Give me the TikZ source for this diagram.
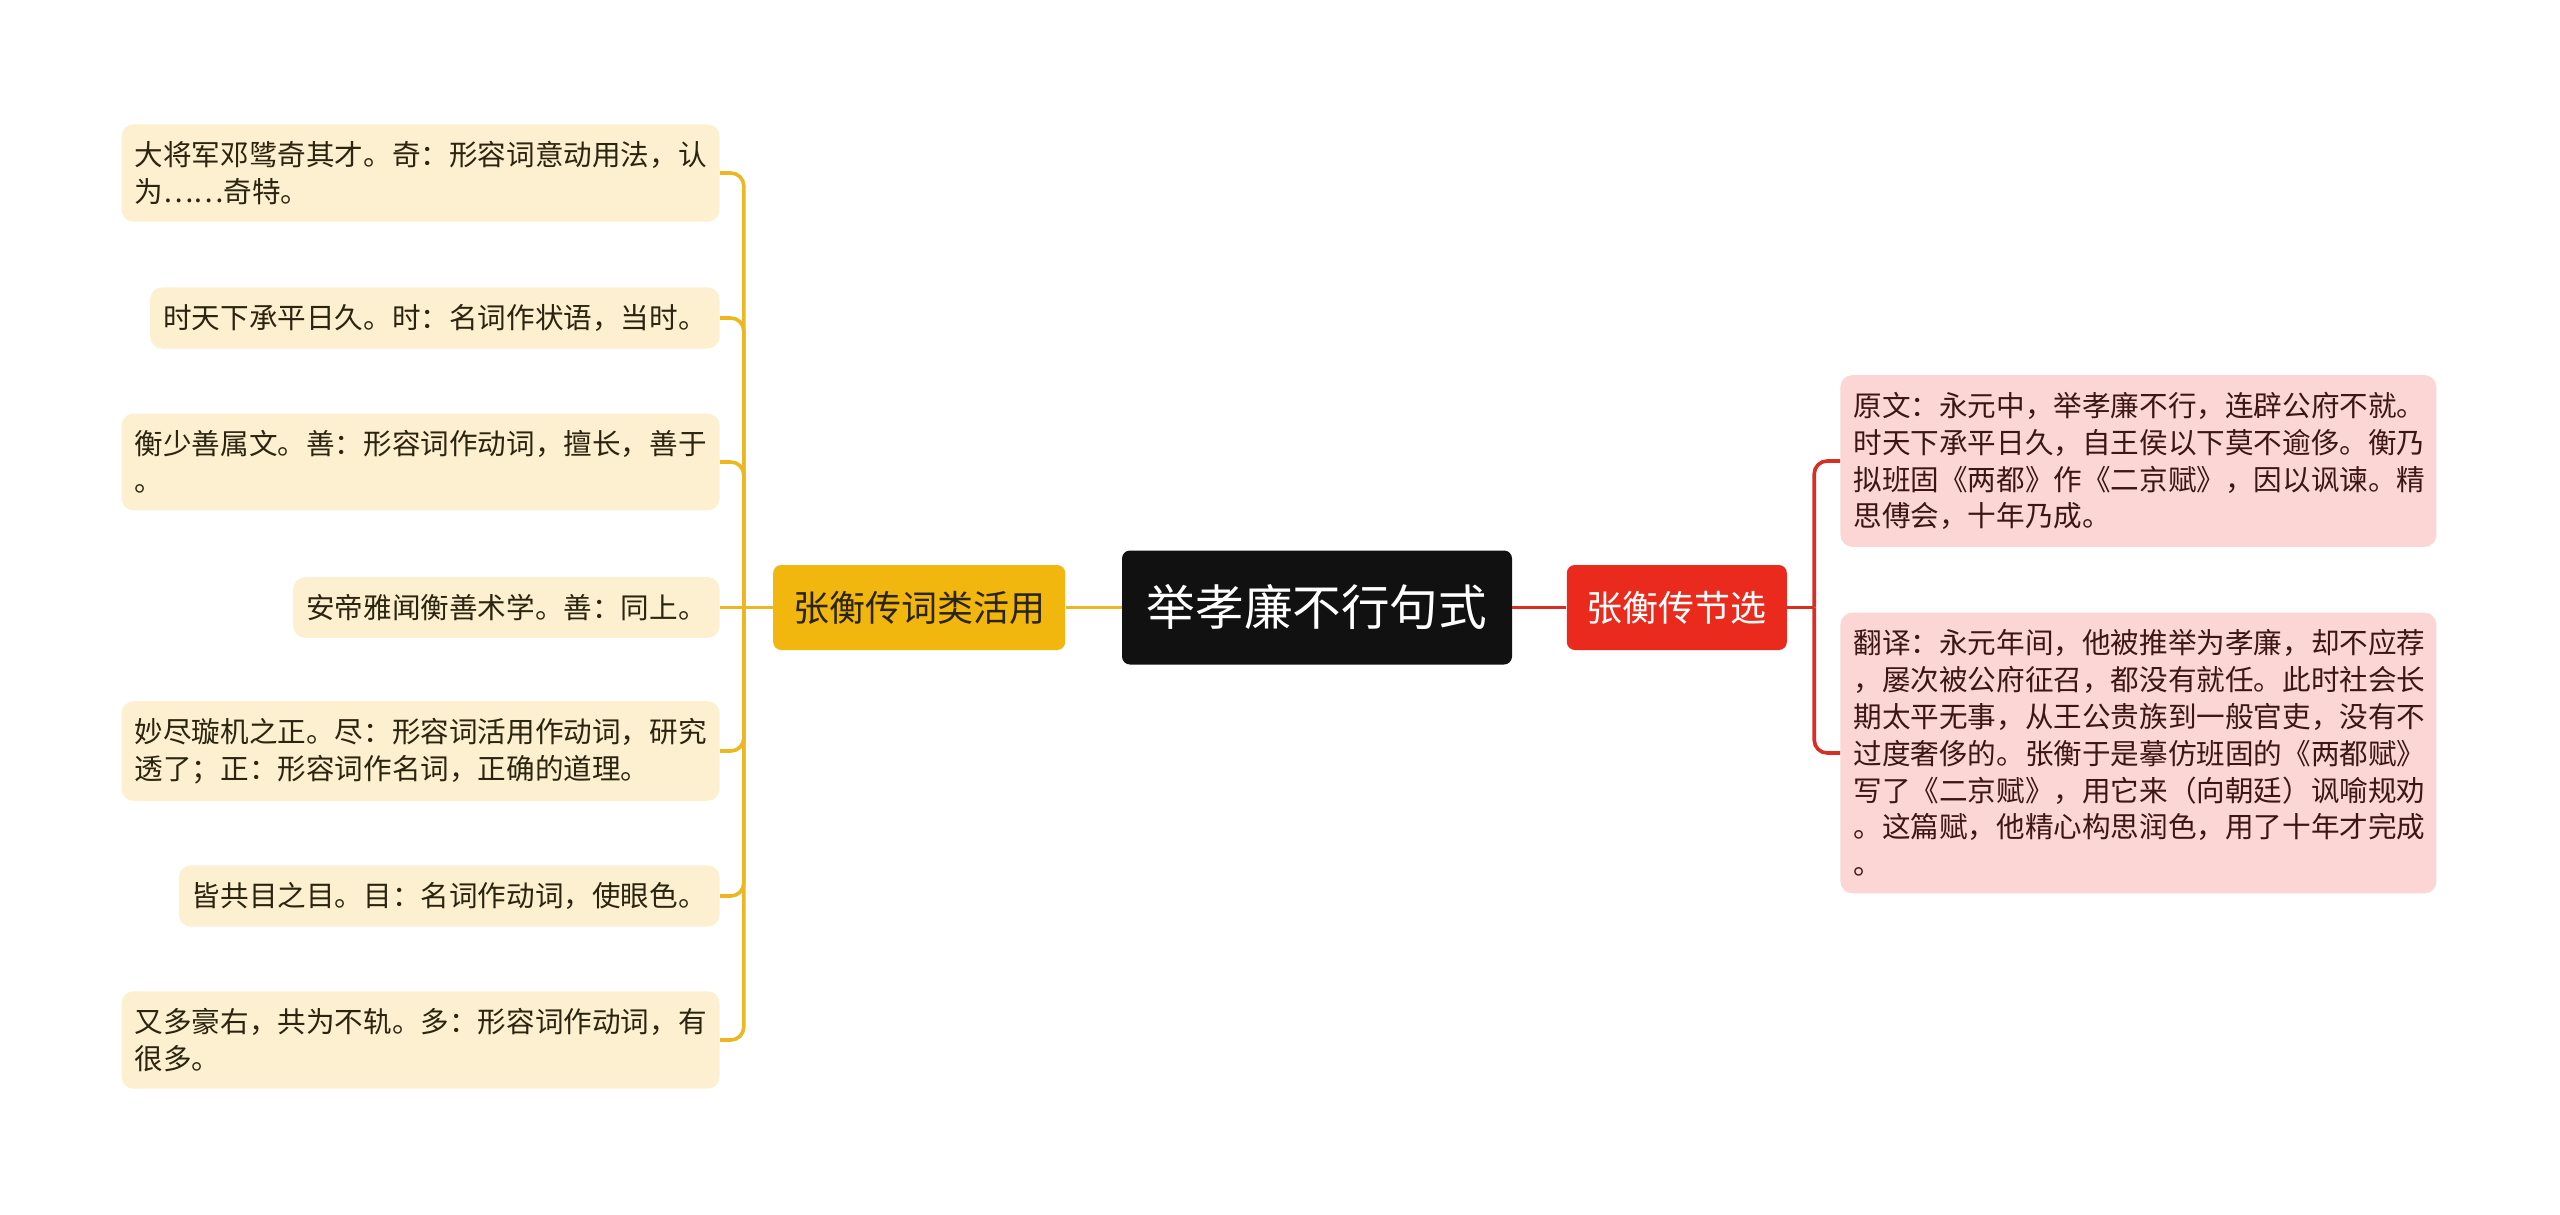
\documentclass[tikz,border=0pt]{standalone}
\usepackage{fontspec}
\newfontfamily\cjk{Noto Sans CJK SC}
\usetikzlibrary{positioning}
\definecolor{rootbg}{HTML}{111111}
\definecolor{ybranch}{HTML}{F1B70F}
\definecolor{yline}{HTML}{EDB722}
\definecolor{yleaf}{HTML}{FDF0D0}
\definecolor{rbranch}{HTML}{EA2A1C}
\definecolor{rline}{HTML}{DA2E25}
\definecolor{rleaf}{HTML}{FCD6D4}
\definecolor{ytext}{HTML}{2B2410}
\definecolor{rtext}{HTML}{3A1616}

\begin{document}
\begin{tikzpicture}[
    x=0.5pt, y=-0.5pt,
    every node/.style={font=\cjk},
    rootnode/.style={rectangle, rounded corners=4pt, fill=rootbg, text=white,
                font={\cjk\fontsize{24.3pt}{28pt}\selectfont},
                minimum width=195pt, minimum height=57pt},
    branch/.style={rectangle, rounded corners=4pt, minimum height=42.5pt,
                inner xsep=10pt, font={\cjk\fontsize{18pt}{22pt}\selectfont}},
    leaf/.style={rectangle, rounded corners=6pt, align=left,
                inner xsep=6.5pt, inner ysep=8.5pt,
                font={\cjk\fontsize{14.3pt}{18.4pt}\selectfont}},
    leafl/.style={leaf, fill=yleaf, text=ytext, anchor=east},
    leafr/.style={leaf, fill=rleaf, text=rtext, anchor=west, text width=285pt},
    ylink/.style={yline, line width=1.8pt, rounded corners=6.5pt},
    rlink/.style={rline, line width=1.8pt, rounded corners=6.5pt}
]
    \useasboundingbox (0,0) rectangle (2560,1215);

    % centre and the two branches
    \node[rootnode] (root) at (1317,607.5) {举孝廉不行句式};
    \node[branch, fill=ybranch, text=ytext, left=28pt of root] (yb) {张衡传词类活用};
    \node[branch, fill=rbranch, text=white, right=27pt of root] (rb) {张衡传节选};
    \coordinate[left=14.5pt of yb] (jl);
    \coordinate[right=13.5pt of rb] (jr);

    % left leaves
    \node[leafl] (l1) at (720,173) {大将军邓骘奇其才。奇：形容词意动用法，认\\为……奇特。};
    \node[leafl] (l2) at (720,318) {时天下承平日久。时：名词作状语，当时。};
    \node[leafl] (l3) at (720,462) {衡少善属文。善：形容词作动词，擅长，善于\\。};
    \node[leafl] (l4) at (720,607.5) {安帝雅闻衡善术学。善：同上。};
    \node[leafl] (l5) at (720,751) {妙尽璇机之正。尽：形容词活用作动词，研究\\透了；正：形容词作名词，正确的道理。};
    \node[leafl] (l6) at (720,896) {皆共目之目。目：名词作动词，使眼色。};
    \node[leafl] (l7) at (720,1040) {又多豪右，共为不轨。多：形容词作动词，有\\很多。};

    % right leaves
    \node[leafr] (r1) at (1840,461) {原文：永元中，举孝廉不行，连辟公府不就。\\时天下承平日久，自王侯以下莫不逾侈。衡乃\\拟班固《两都》作《二京赋》，因以讽谏。精\\思傅会，十年乃成。};
    \node[leafr] (r2) at (1840,753) {翻译：永元年间，他被推举为孝廉，却不应荐\\，屡次被公府征召，都没有就任。此时社会长\\期太平无事，从王公贵族到一般官吏，没有不\\过度奢侈的。张衡于是摹仿班固的《两都赋》\\写了《二京赋》，用它来（向朝廷）讽喻规劝\\。这篇赋，他精心构思润色，用了十年才完成\\。};

    % links
    \draw[ylink] (yb) -- (root);
    \draw[rlink] (root) -- (rb);
    \draw[ylink] (yb.west) -- (jl);
    \draw[rlink] (rb.east) -- (jr);
    \foreach \n in {l1,l2,l3,l5,l6,l7}
        \draw[ylink] (jl) |- (\n.east);
    \draw[ylink] (jl) -- (l4.east);
    \foreach \n in {r1,r2}
        \draw[rlink] (jr) |- (\n.west);
\end{tikzpicture}
\end{document}
